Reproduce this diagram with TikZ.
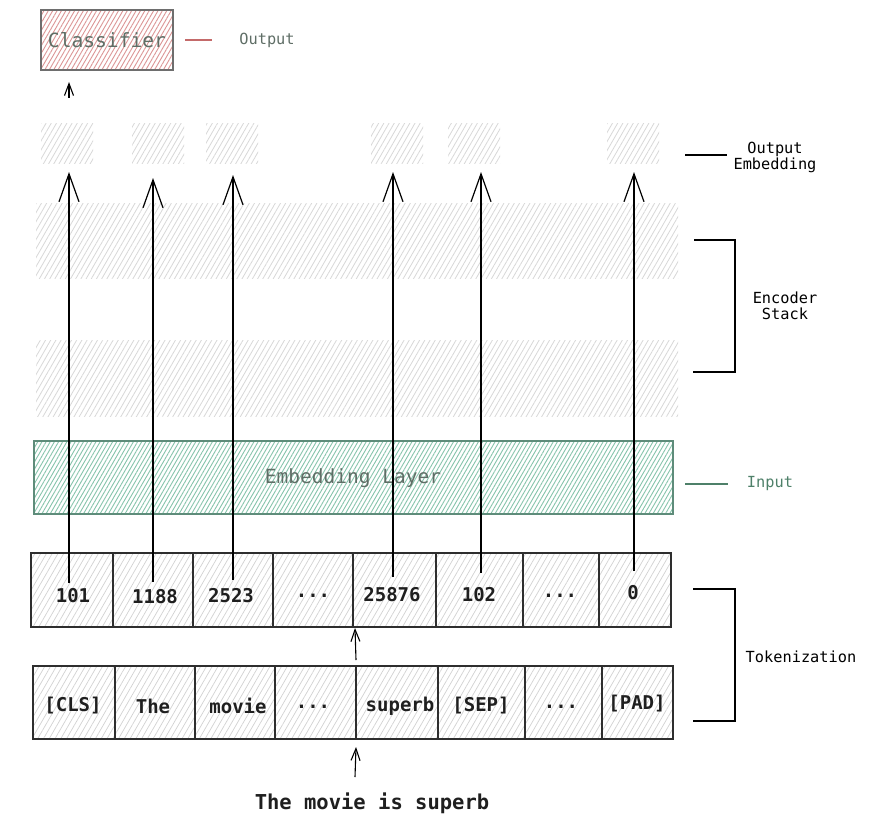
\documentclass[tikz,border=0pt]{standalone}
\usepackage{fontspec}
\setmainfont{DejaVu Sans Mono}
\usetikzlibrary{patterns.meta,arrows.meta,calc}
\definecolor{redhatch}{HTML}{DC9696}
\definecolor{redline}{HTML}{C46A6A}
\definecolor{boxgray}{HTML}{6E6E6E}
\definecolor{softtext}{HTML}{5F6E66}
\definecolor{greenhatch}{HTML}{86C4AC}
\definecolor{greenborder}{HTML}{5E8C7A}
\definecolor{greentext}{HTML}{4E8069}
\definecolor{grayhatchc}{HTML}{D8D8D8}
\definecolor{cellhatch}{HTML}{D2D2D2}
\definecolor{cellborder}{HTML}{2E2E2E}
\tikzset{
  box/.style={rectangle, inner sep=0pt, outer sep=0pt},
  redbox/.style={box, draw=boxgray, line width=1.1pt,
    pattern={Lines[angle=60,distance=3.8pt,line width=0.9pt]}, pattern color=redhatch},
  greenbox/.style={box, draw=greenborder, line width=1.1pt,
    pattern={Lines[angle=60,distance=3.6pt,line width=0.9pt]}, pattern color=greenhatch},
  graybox/.style={box,
    pattern={Lines[angle=60,distance=4.5pt,line width=0.8pt]}, pattern color=grayhatchc},
  cellbox/.style={box, draw=cellborder, line width=1.1pt,
    pattern={Lines[angle=60,distance=5pt,line width=0.7pt]}, pattern color=cellhatch},
  celltxt/.style={inner sep=0pt, font=\fontsize{19}{22}\selectfont\bfseries, text=black!88},
  sidetxt/.style={inner sep=0pt, font=\fontsize{15.3}{19}\selectfont, align=center},
  bigarrow/.style={line width=1.2pt, -{Straight Barb[length=28pt,width=20pt,line width=1.2pt]}},
  smallarrow/.style={line width=1.1pt, -{Straight Barb[length=12pt,width=9pt,line width=1.1pt]}},
  bracketline/.style={line width=1.1pt, black},
}
\begin{document}
\begin{tikzpicture}[x=1pt,y=-1pt]
\useasboundingbox[fill=white] (0,0) rectangle (869,824);

% classifier
\node[redbox, minimum width=132pt, minimum height=60pt] (cls) at (107,40) {};
\node[inner sep=0pt, text=softtext, font=\fontsize{19.6}{22}\selectfont] (clst) at (cls.center) {Classifier};
\coordinate (outl1) at (185,40);
\coordinate (outl2) at (212,40);
\draw[redline, line width=1.1pt] (outl1) -- (outl2);
\node[sidetxt, text=softtext] (outt) at (267,40) {Output};

% output embeddings
\node[graybox, minimum width=52pt, minimum height=40pt] (o1) at (67,143) {};
\node[graybox, minimum width=52pt, minimum height=40pt] (o2) at (158,143) {};
\node[graybox, minimum width=52pt, minimum height=40pt] (o3) at (232,143) {};
\node[graybox, minimum width=52pt, minimum height=40pt] (o5) at (397,143) {};
\node[graybox, minimum width=52pt, minimum height=40pt] (o6) at (474,143) {};
\node[graybox, minimum width=52pt, minimum height=40pt] (o8) at (633,143) {};
\coordinate (oel1) at (685,155);
\coordinate (oel2) at (727,155);
\draw[line width=1.1pt] (oel1) -- (oel2);
\node[sidetxt] (oet) at (775,157) {Output\\[-3pt]Embedding};

% encoder stack
\node[graybox, minimum width=642pt, minimum height=75pt] (enc1) at (357,240.5) {};
\node[graybox, minimum width=642pt, minimum height=76pt] (enc2) at (357,378) {};
\coordinate (eb1) at (694,240);
\coordinate (eb2) at (735,240);
\coordinate (eb3) at (735,372);
\coordinate (eb4) at (693,372);
\draw[bracketline] (eb1) -- (eb2) -- (eb3) -- (eb4);
\node[sidetxt] (enct) at (785,306) {Encoder\\[-3pt]Stack};

% embedding layer
\node[greenbox, minimum width=639pt, minimum height=73pt] (emb) at (353.5,477.5) {};
\node[inner sep=0pt, text=softtext, font=\fontsize{19.5}{22}\selectfont] (embt) at (353,478) {Embedding Layer};
\coordinate (inl1) at (685,484);
\coordinate (inl2) at (728,484);
\draw[greentext, line width=1.1pt] (inl1) -- (inl2);
\node[sidetxt, text=greentext] (inpt) at (770,484) {Input};

% token ids
\node[cellbox, minimum width=82pt, minimum height=74pt] (t1) at (72,590) {};
\node[cellbox, minimum width=80pt, minimum height=74pt] (t2) at (153,590) {};
\node[cellbox, minimum width=80pt, minimum height=74pt] (t3) at (233,590) {};
\node[cellbox, minimum width=80pt, minimum height=74pt] (t4) at (313,590) {};
\node[cellbox, minimum width=83pt, minimum height=74pt] (t5) at (394.5,590) {};
\node[cellbox, minimum width=87pt, minimum height=74pt] (t6) at (479.5,590) {};
\node[cellbox, minimum width=76pt, minimum height=74pt] (t7) at (561,590) {};
\node[cellbox, minimum width=72pt, minimum height=74pt] (t8) at (635,590) {};
\node[celltxt] (t1l) at (73,596) {101};
\node[celltxt] (t2l) at (155,597) {1188};
\node[celltxt] (t3l) at (231,596) {2523};
\node[celltxt] (t4l) at (313,596) {...};
\node[celltxt] (t5l) at (392,595) {25876};
\node[celltxt] (t6l) at (479,595) {102};
\node[celltxt] (t7l) at (560,596) {...};
\node[celltxt] (t8l) at (633,593) {0};

% words
\node[cellbox, minimum width=82pt, minimum height=73pt] (w1) at (74,702.5) {};
\node[cellbox, minimum width=80pt, minimum height=73pt] (w2) at (155,702.5) {};
\node[cellbox, minimum width=80pt, minimum height=73pt] (w3) at (235,702.5) {};
\node[cellbox, minimum width=81pt, minimum height=73pt] (w4) at (315.5,702.5) {};
\node[cellbox, minimum width=82pt, minimum height=73pt] (w5) at (397,702.5) {};
\node[cellbox, minimum width=87pt, minimum height=73pt] (w6) at (481.5,702.5) {};
\node[cellbox, minimum width=77pt, minimum height=73pt] (w7) at (563.5,702.5) {};
\node[cellbox, minimum width=71pt, minimum height=73pt] (w8) at (637.5,702.5) {};
\node[celltxt] (w1l) at (73,706) {[CLS]};
\node[celltxt] (w2l) at (153,706) {The};
\node[celltxt] (w3l) at (238,706) {movie};
\node[celltxt] (w4l) at (313,707) {...};
\node[celltxt] (w5l) at (400,706) {superb};
\node[celltxt] (w6l) at (481,706) {[SEP]};
\node[celltxt] (w7l) at (561,707) {...};
\node[celltxt] (w8l) at (637,704) {[PAD]};

% tokenization bracket
\coordinate (tb1) at (693,589);
\coordinate (tb2) at (735,589);
\coordinate (tb3) at (735,721);
\coordinate (tb4) at (693,721);
\draw[bracketline] (tb1) -- (tb2) -- (tb3) -- (tb4);
\node[sidetxt] (tokt) at (801,657) {Tokenization};

% sentence
\node[celltxt, font=\fontsize{20.5}{24}\selectfont\bfseries] (sent) at (372,803) {The movie is superb};

% arrows
\draw[bigarrow] (69,583) -- (69,172);
\draw[bigarrow] (153,582) -- (153,178);
\draw[bigarrow] (233,580) -- (233,175);
\draw[bigarrow] (393,577) -- (393,172);
\draw[bigarrow] (481,573) -- (481,172);
\draw[bigarrow] (634,571) -- (634,172);
\draw[smallarrow] (355,777) -- (w5.south west |- 0,747);
\draw[smallarrow] (w5.north west |- 0,660) -- (355,628);
\coordinate (clsin) at (69,98);
\draw[smallarrow] (clsin) -- (69,82);
\end{tikzpicture}
\end{document}
